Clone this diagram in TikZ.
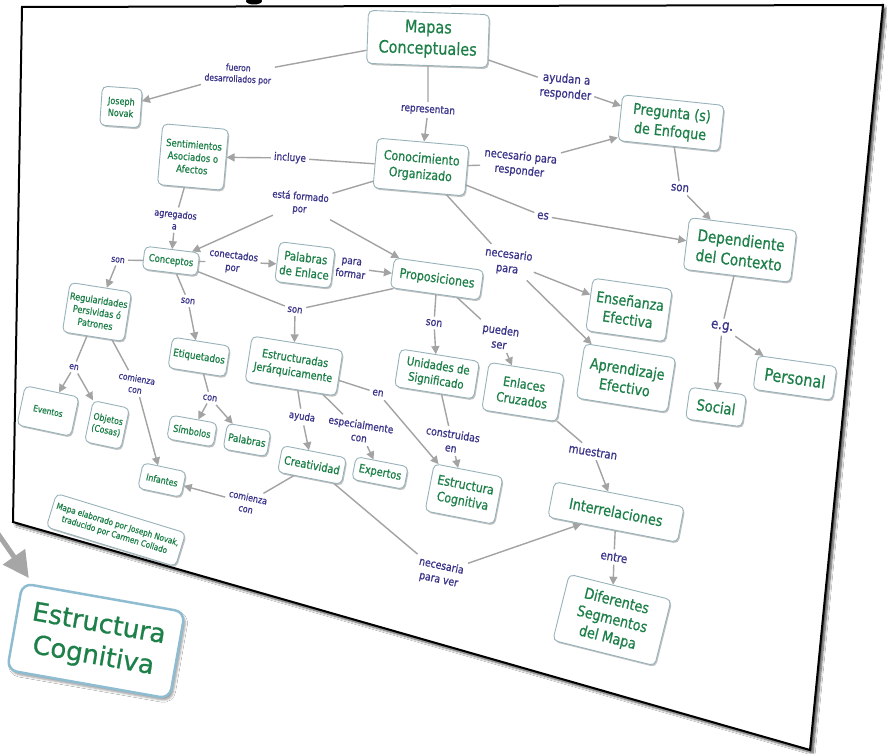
\documentclass[tikz,border=0pt]{standalone}
\usepackage{fontspec}
\setmainfont{DejaVu Sans}[FakeStretch=0.85,FakeBold=0.7]
\newfontfamily\bigfont{DejaVu Sans}[FakeBold=0.8]
\usetikzlibrary{arrows.meta,shadows,shadows.blur}
\definecolor{concc}{HTML}{1E8049}
\definecolor{linkc}{HTML}{3A3489}
\definecolor{boxc}{HTML}{98B2BA}
\definecolor{arrc}{HTML}{A3A3A3}
\definecolor{bigboxc}{HTML}{8EBCD0}
\newcommand\fsz[1]{\fontsize{#1}{\fpeval{1.25*#1}}\selectfont}
\tikzset{
 concept/.style={draw=boxc, line width=0.9pt, rounded corners=5pt, fill=white, text=concc, align=center, inner sep=2pt,
   drop shadow={shadow xshift=1.2pt, shadow yshift=-1.6pt, opacity=0.4, fill=black!60}},
 lnk/.style={text=linkc, align=center, inner sep=3pt},
 con/.style={draw=arrc, line width=1.4pt},
 arr/.style={con, -{Triangle[length=8pt,width=8pt]}},
}
\newcommand\cpt[8]{\node[concept, rotate=#4, font=\fsz{#5}, minimum width=#6pt, minimum height=#7pt] (#1) at (#2,#3) {#8};}
\newcommand\lbl[6]{\node[lnk, rotate=#4, font=\fsz{#5}] (#1) at (#2,#3) {#6};}
\begin{document}
\begin{tikzpicture}[x=1pt,y=-1pt]
\useasboundingbox (0,0) rectangle (887,754);
\fill[white] (0,0) rectangle (887,754);
% card
\fill (254,1) ellipse [x radius=8pt, y radius=3.5pt];
\path[fill=white, blur shadow={shadow xshift=3pt, shadow yshift=-3pt, shadow blur steps=8, shadow opacity=70}] (22,7) -- (883,5) -- (810,750) -- (13,522) -- cycle;
\draw[line width=2pt, fill=white, line join=miter] (22,7) -- (883,5) -- (810,750) -- (13,522) -- cycle;
% concepts
\cpt{mapas}{428}{39}{-2}{17}{121}{53}{Mapas\\Conceptuales}
\cpt{novak}{121}{107}{-4}{9.5}{40}{39}{Joseph\\Novak}
\cpt{sent}{193}{157}{-5}{10}{66}{61}{Sentimientos\\Asociados o\\Afectos}
\cpt{conoc}{421}{167}{-5}{13}{92}{50}{Conocimiento\\Organizado}
\cpt{preg}{671}{123}{-6}{15}{102}{46}{Pregunta (s)\\de Enfoque}
\cpt{depend}{740}{250}{-7}{16}{108}{52}{Dependiente\\del Contexto}
\cpt{concep}{171}{261}{-7}{10}{55}{23}{Conceptos}
\cpt{palE}{305}{265}{-7}{12}{56}{40}{Palabras\\de Enlace}
\cpt{propos}{437}{279}{-8}{13}{90}{30}{Proposiciones}
\cpt{regul}{97}{312}{-9}{9.6}{62}{50}{Regularidades\\Persividas ó\\Patrones}
\cpt{etiq}{199}{357}{-9}{10.3}{58}{31}{Etiquetados}
\cpt{estruct}{294}{366}{-9}{11.3}{92}{46}{Estructuradas\\Jerárquicamente}
\cpt{unid}{437}{374}{-9}{12}{80}{38}{Unidades de\\Significado}
\cpt{enlac}{523}{392}{-9}{13}{76}{48}{Enlaces\\Cruzados}
\cpt{ensen}{629}{310}{-8}{14.8}{80}{53}{Enseñanza\\Efectiva}
\cpt{aprend}{626}{378}{-9}{15}{92}{55}{Aprendizaje\\Efectivo}
\cpt{social}{716}{407}{-8}{15.5}{57}{32}{Social}
\cpt{personal}{795}{378}{-8}{17}{80}{34}{Personal}
\cpt{eventos}{48}{411}{-12}{8.8}{55}{40}{Eventos}
\cpt{objetos}{107}{425}{-12}{9.2}{37}{42}{Objetos\\(Cosas)}
\cpt{simb}{192}{431}{-10}{9.8}{47}{24}{Símbolos}
\cpt{palab}{247}{440}{-10}{10.5}{44}{26}{Palabras}
\cpt{creat}{312}{465}{-11}{11.6}{65}{27}{Creatividad}
\cpt{expert}{380}{473}{-11}{11.5}{53}{23}{Expertos}
\cpt{estcog}{464}{494}{-11}{13}{70}{48}{Estructura\\Cognitiva}
\cpt{infant}{162}{480}{-12}{9.3}{44}{26}{Infantes}
\cpt{interrel}{616}{512}{-11}{15}{132}{36}{Interrelaciones}
\cpt{difer}{612}{620}{-14}{15}{105}{68}{Diferentes\\Segmentos\\del Mapa}
\cpt{mapael}{116}{530}{-17}{8.6}{135}{35}{Mapa elaborado por Joseph Novak,\\traducido por Carmen Collado}
% linking phrases
\lbl{l1}{238}{74}{-3}{9}{fueron\\desarrollados por}
\lbl{l2}{428}{110}{-4}{10.5}{representan}
\lbl{l3}{566}{87}{-5}{12}{ayudan a\\responder}
\lbl{l4}{290}{158}{-4}{10.5}{incluye}
\lbl{l5}{520}{164}{-6}{11.5}{necesario para\\responder}
\lbl{l6}{300}{203}{-5}{10}{está formado\\por}
\lbl{l7}{680}{188}{-6}{12}{son}
\lbl{l8}{543}{216}{-6}{12}{es}
\lbl{l9}{175}{220}{-6}{9.5}{agregados\\a}
\lbl{l10}{508}{262}{-7}{11.5}{necesario\\para}
\lbl{l11}{118}{260}{-7}{9}{son}
\lbl{l12}{233}{262}{-7}{10}{conectados\\por}
\lbl{l13}{351}{268}{-7}{10.5}{para\\formar}
\lbl{l14}{188}{301}{-8}{9.5}{son}
\lbl{l15}{295}{310}{-8}{10}{son}
\lbl{l16}{434}{323}{-8}{11}{son}
\lbl{l17}{500}{337}{-8}{11.5}{pueden\\ser}
\lbl{l18}{722}{327}{-8}{14}{e.g.}
\lbl{l19}{74}{367}{-10}{9}{en}
\lbl{l20}{136}{384}{-10}{9}{comienza\\con}
\lbl{l21}{210}{398}{-9}{9.5}{con}
\lbl{l22}{378}{393}{-9}{10.5}{en}
\lbl{l23}{302}{417}{-9}{10}{ayuda}
\lbl{l24}{360}{431}{-9}{10.5}{especialmente\\con}
\lbl{l25}{452}{441}{-9}{11}{construidas\\en}
\lbl{l26}{593}{452}{-9}{12}{muestran}
\lbl{l27}{247}{503}{-12}{9.5}{comienza\\con}
\lbl{l28}{440}{573}{-12}{11}{necesaria\\para ver}
\lbl{l29}{614}{557}{-10}{12}{entre}
% connectors
\draw[con] (mapas) -- (l1); \draw[arr] (l1) -- (novak);
\draw[con] (mapas) -- (l2); \draw[arr] (l2) -- (conoc);
\draw[con] (mapas) -- (l3); \draw[arr] (l3) -- (preg);
\draw[con] (conoc) -- (l4); \draw[arr] (l4) -- (sent);
\draw[con] (conoc) -- (l5); \draw[arr] (l5) -- (preg);
\draw[con] (conoc) -- (l6); \draw[arr] (l6) -- (concep); \draw[arr] (l6) -- (propos);
\draw[con] (preg) -- (l7); \draw[arr] (l7) -- (depend);
\draw[con] (conoc) -- (l8); \draw[arr] (l8) -- (depend);
\draw[con] (sent) -- (l9); \draw[arr] (l9) -- (concep);
\draw[con] (conoc) -- (l10); \draw[arr] (l10) -- (ensen); \draw[arr] (l10) -- (aprend);
\draw[con] (concep) -- (l11); \draw[arr] (l11) -- (regul);
\draw[con] (concep) -- (l12); \draw[arr] (l12) -- (palE);
\draw[con] (palE) -- (l13); \draw[arr] (l13) -- (propos);
\draw[con] (concep) -- (l14); \draw[arr] (l14) -- (etiq);
\draw[con] (concep) -- (l15); \draw[con] (propos) -- (l15); \draw[arr] (l15) -- (estruct);
\draw[con] (propos) -- (l16); \draw[arr] (l16) -- (unid);
\draw[con] (propos) -- (l17); \draw[arr] (l17) -- (enlac);
\draw[con] (depend) -- (l18); \draw[arr] (l18) -- (social); \draw[arr] (l18) -- (personal);
\draw[con] (regul) -- (l19); \draw[arr] (l19) -- (eventos); \draw[arr] (l19) -- (objetos);
\draw[con] (regul) -- (l20); \draw[arr] (l20) -- (infant);
\draw[con] (etiq) -- (l21); \draw[arr] (l21) -- (simb); \draw[arr] (l21) -- (palab);
\draw[con] (estruct) -- (l22); \draw[arr] (l22) -- (estcog);
\draw[con] (estruct) -- (l23); \draw[arr] (l23) -- (creat);
\draw[con] (estruct) -- (l24); \draw[arr] (l24) -- (expert);
\draw[con] (unid) -- (l25); \draw[arr] (l25) -- (estcog);
\draw[con] (enlac) -- (l26); \draw[arr] (l26) -- (interrel);
\draw[con] (creat) -- (l27); \draw[arr] (l27) -- (infant);
\draw[con] (creat) -- (l28); \draw[arr] (l28) -- (interrel);
\draw[con] (interrel) -- (l29); \draw[arr] (l29) -- (difer);
% big box outside the card
\node[rotate=-10, draw=bigboxc, line width=2.5pt, rounded corners=10pt, fill=white, minimum width=165pt, minimum height=88pt,
  blur shadow={shadow xshift=2pt, shadow yshift=-3pt}, font=\bigfont\fsz{26}, text=concc, align=center] (big) at (96,641) {Estructura\\Cognitiva};
\coordinate (bigsrc) at (-4,531);
\draw[draw=black!35, line width=5pt, -{Triangle[length=26pt,width=26pt]}, shorten >=1pt] (bigsrc) -- ([shift={(8,-3)}]big.north west);
\end{tikzpicture}
\end{document}
